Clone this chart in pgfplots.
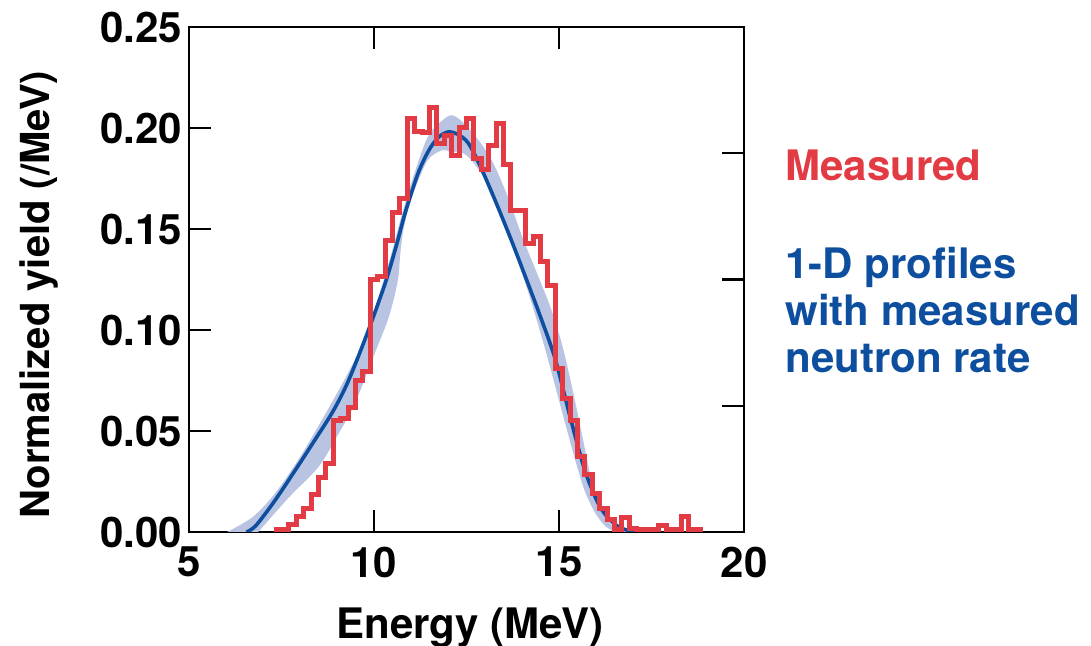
\documentclass[border=0pt]{standalone}
\usepackage{fontspec}
\setmainfont{TeX Gyre Heros}
\usepackage{pgfplots}
\pgfplotsset{compat=1.18}
\definecolor{cMeas}{HTML}{E23B43}
\definecolor{cProf}{HTML}{0D4F9E}
\definecolor{cBand}{HTML}{B9C3E2}

\begin{document}
\begin{tikzpicture}
\begin{axis}[
    name=ax,
    scale only axis,
    width=277.5pt, height=252.5pt,
    xmin=5, xmax=20, ymin=0, ymax=0.25,
    xtick={5,10,15,20},
    ytick={0,0.05,0.10,0.15,0.20,0.25},
    ytick pos=left,
    tick align=inside,
    major tick length=11pt,
    tick style={line width=1.2pt, black},
    axis line style={line width=1.2pt},
    font=\fontsize{21}{23}\selectfont\bfseries,
    /pgf/number format/assume math mode=true,
    scaled y ticks=false,
    yticklabel style={/pgf/number format/.cd, fixed, fixed zerofill, precision=2},
    xticklabel style={yshift=-4pt},
    xlabel={Energy (MeV)},
    ylabel={Normalized yield (/MeV)},
    xlabel style={at={(axis description cs:0.506,-0.19)}, anchor=center},
    ylabel style={at={(axis description cs:-0.27,0.47)}, anchor=center, font=\fontsize{20}{22}\selectfont\bfseries},
]
% model band
\addplot[fill=cBand, draw=none, smooth, tension=0.5] coordinates {
(6.03,0)(6.72,0.0074)(7.32,0.019)(8.00,0.0371)(8.69,0.0586)(9.29,0.0784)
(9.78,0.0965)(10.07,0.113)(10.47,0.1378)(10.76,0.1576)(11.06,0.1757)
(11.45,0.1955)(11.85,0.2038)(12.09,0.2063)(12.34,0.2038)(12.83,0.1939)
(13.23,0.1823)(13.62,0.1658)(14.01,0.146)(14.41,0.1279)(14.80,0.1097)
(15.10,0.0916)(15.39,0.0685)(15.69,0.0421)(15.89,0.0239)(16.08,0.0124)
(16.48,0.0025)(16.87,0)
(16.58,0)(16.28,0.0025)(15.99,0.0091)(15.69,0.0206)(15.39,0.0388)
(15.0,0.0652)(14.61,0.0916)(14.21,0.1163)(13.82,0.1378)(13.42,0.1576)
(13.13,0.1708)(12.64,0.184)(12.34,0.1881)(12.09,0.1881)(11.85,0.189)
(11.45,0.184)(11.06,0.1675)(10.81,0.151)(10.71,0.1378)(10.67,0.1279)
(10.57,0.118)(10.37,0.1048)(9.98,0.0866)(9.48,0.0635)(8.99,0.047)
(8.50,0.0322)(7.71,0.0173)(6.87,0)
} -- cycle;
% model curve
\addplot[cProf, line width=1.8pt, smooth] coordinates {
(6.55,0)(6.8,0.003)(7.3,0.0150)(7.85,0.0300)(8.4,0.0455)(8.9,0.0600)
(9.3,0.0745)(9.8,0.0975)(10.3,0.1230)(10.6,0.1415)(10.85,0.1585)
(11.2,0.1780)(11.5,0.1895)(11.75,0.1955)(12.0,0.1980)(12.25,0.1970)
(12.55,0.1925)(12.9,0.1800)(13.3,0.1630)(13.7,0.1450)(14.1,0.1260)
(14.5,0.1065)(14.9,0.0855)(15.3,0.0570)(15.7,0.0305)(16.1,0.0127)
(16.5,0.0040)(16.85,0.0008)(17.1,0)
};
% measured histogram (left bin edge, value)
\addplot[cMeas, line width=2.5pt, const plot] coordinates {
(7.3,0.001)(7.5,0.001)(7.7,0.0035)(7.9,0.0076)(8.1,0.0117)(8.3,0.0188)
(8.5,0.027)(8.7,0.0337)(8.9,0.0554)(9.1,0.0563)(9.3,0.0617)(9.5,0.0752)
(9.7,0.0794)(9.9,0.1251)(10.1,0.1264)(10.3,0.1441)(10.5,0.1582)(10.7,0.1652)
(10.9,0.2045)(11.1,0.1985)(11.3,0.198)(11.5,0.2102)(11.7,0.1925)(11.9,0.1965)
(12.1,0.1865)(12.3,0.200)(12.5,0.2045)(12.7,0.1848)(12.9,0.1795)(13.1,0.1912)
(13.3,0.2023)(13.5,0.1818)(13.7,0.1592)(13.9,0.1592)(14.1,0.1427)(14.3,0.1465)
(14.5,0.1338)(14.7,0.1222)(14.9,0.0809)(15.1,0.0661)(15.3,0.0554)(15.5,0.0373)
(15.7,0.0284)(15.9,0.0191)(16.1,0.0117)(16.3,0.0062)(16.5,0.0012)(16.7,0.0073)
(16.9,0.0018)(17.1,0.0012)(17.3,0.0012)(17.5,0.0012)(17.7,0.0030)(17.9,0.0012)
(18.1,0.0012)(18.3,0.0075)(18.5,0.0012)(18.7,0.0012)(18.9,0.0012)
};
\end{axis}
% right-hand ticks on their own scale
\begin{axis}[
    scale only axis,
    width=277.5pt, height=252.5pt,
    xmin=5, xmax=20, ymin=0, ymax=4,
    axis x line=none,
    axis y line*=right,
    ytick={1,2,3}, yticklabels={},
    tick align=inside,
    major tick length=11pt,
    tick style={line width=1.2pt, black},
    axis line style={line width=1.2pt, -},
]
\end{axis}
\node[anchor=west, inner sep=0pt, text=cMeas, font=\fontsize{21}{23}\selectfont\bfseries]
    at ([shift={(298pt,183.5pt)}]ax.south west) {Measured};
\node[anchor=west, inner sep=0pt, align=left, text=cProf, font=\fontsize{21}{23.5}\selectfont\bfseries]
    at ([shift={(298pt,111pt)}]ax.south west) {1-D profiles\\with measured\\neutron rate};
\pgfresetboundingbox
\path ([shift={(-94.5pt,-57pt)}]ax.south west) rectangle ([shift={(451pt,266pt)}]ax.south west);
\end{tikzpicture}
\end{document}
